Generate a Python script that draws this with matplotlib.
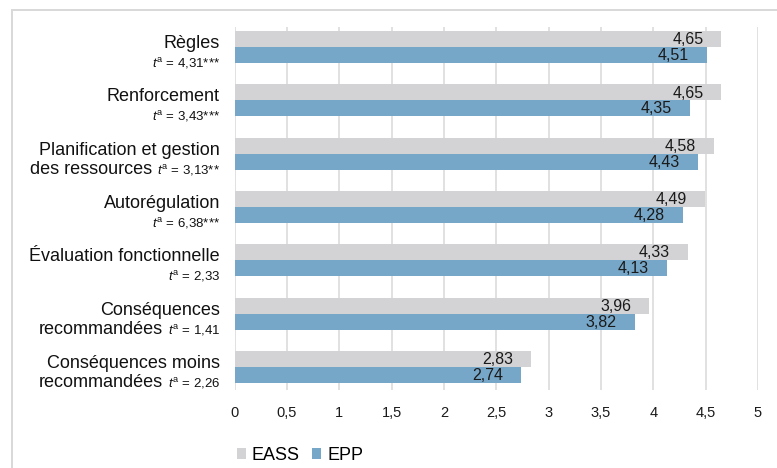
import matplotlib
matplotlib.use("Agg")
import matplotlib.pyplot as plt
from matplotlib.lines import Line2D
from matplotlib.font_manager import fontManager

# ---- data -------------------------------------------------------------
categories = [
    ["Règles"],
    ["Renforcement"],
    ["Planification et gestion", "des ressources"],
    ["Autorégulation"],
    ["Évaluation fonctionnelle"],
    ["Conséquences", "recommandées"],
    ["Conséquences moins", "recommandées"],
]
t_values = ["4,31***", "3,43***", "3,13**", "6,38***", "2,33", "1,41", "2,26"]
series_names = ["EASS", "EPP"]
eass = [4.65, 4.65, 4.58, 4.49, 4.33, 3.96, 2.83]
epp = [4.51, 4.35, 4.43, 4.28, 4.13, 3.82, 2.74]
xticks = [0, 0.5, 1, 1.5, 2, 2.5, 3, 3.5, 4, 4.5, 5]
xtick_labels = ["0", "0,5", "1", "1,5", "2", "2,5", "3", "3,5", "4", "4,5", "5"]

# ---- style ------------------------------------------------------------
installed = {f.name for f in fontManager.ttflist}
NARROW = "Liberation Sans Narrow" if "Liberation Sans Narrow" in installed else "Liberation Sans"
REG = "Liberation Sans"
plt.rcParams["font.family"] = [REG, "DejaVu Sans"]
plt.rcParams["mathtext.fontset"] = "custom"
plt.rcParams["mathtext.rm"] = NARROW
plt.rcParams["mathtext.it"] = NARROW + ":italic"

GRAY = "#D3D3D5"
BLUE = "#77A7C8"
GRID = "#D9D9D9"
DPI = 100
PT = 72.0 / DPI  # points per pixel

fig = plt.figure(figsize=(7.77, 4.68), dpi=DPI)
ax = fig.add_axes([234.7 / 777, 1 - 390 / 468, (758 - 234.7) / 777, (390 - 26.7) / 468])

pos = list(range(len(categories)))
bh = 0.3
b1 = ax.barh([p - bh / 2 for p in pos], eass, height=bh, color=GRAY, label=series_names[0], zorder=2)
b2 = ax.barh([p + bh / 2 for p in pos], epp, height=bh, color=BLUE, label=series_names[1], zorder=2)

ax.set_xlim(0, 5)
ax.set_ylim(6.435, -0.381)
ax.set_xticks(xticks)
ax.set_xticklabels(xtick_labels, fontsize=10.5, color="#1a1a1a")
ax.set_yticks([])
ax.tick_params(axis="x", length=0, pad=11.5)
ax.xaxis.grid(True, color=GRID, linewidth=1.1)
ax.set_axisbelow(True)
for s in ax.spines.values():
    s.set_visible(False)

# value labels inside the bar ends
for bars, vals in ((b1, eass), (b2, epp)):
    for rect, v in zip(bars, vals):
        ax.annotate(f"{v:.2f}".replace(".", ","),
                    xy=(v, rect.get_y() + rect.get_height() / 2),
                    xytext=(-18 * PT, -0.5), textcoords="offset points",
                    ha="right", va="center", fontsize=11.5, color="#1a1a1a")

# category labels with t statistic
ytr = ax.get_yaxis_transform()
renderer = fig.canvas.get_renderer()
CAT_SIZE = 13
T_SIZE = 9.5
xr = -14.7 * PT
for i, (lines, tv) in enumerate(zip(categories, t_values)):
    tlab = r"$t^{\mathrm{a}}$ = " + tv
    y1 = -1 * PT
    y2 = -20.5 * PT
    ax.annotate(lines[0], xy=(0, i), xycoords=ytr, xytext=(xr, y1), textcoords="offset points",
                ha="right", va="baseline", fontsize=CAT_SIZE, family=NARROW, color="#111111")
    tt = ax.annotate(tlab, xy=(0, i), xycoords=ytr, xytext=(xr, y2), textcoords="offset points",
                     ha="right", va="baseline", fontsize=T_SIZE, family=NARROW, color="#111111")
    if len(lines) > 1:
        w = tt.get_window_extent(renderer).width
        ax.annotate(lines[1], xy=(0, i), xycoords=ytr, xytext=(xr - (w + 5) * PT, y2),
                    textcoords="offset points", ha="right", va="baseline",
                    fontsize=CAT_SIZE, family=NARROW, color="#111111")

# legend
leg = fig.legend(handles=[b1, b2], labels=series_names, loc="center left",
                 bbox_to_anchor=(236.7 / 777, 1 - 455.5 / 468), ncol=2, frameon=False,
                 prop={"family": NARROW, "size": 13}, handlelength=0.5, handleheight=0.5,
                 handletextpad=0.33, columnspacing=0.7, borderpad=0, borderaxespad=0)

# outer frame (left and top edges)
fig.add_artist(Line2D([12 / 777, 12 / 777], [0, 1 - 10 / 468], color=GRID, linewidth=2 * PT,
                      transform=fig.transFigure))
fig.add_artist(Line2D([12 / 777, 1], [1 - 10 / 468, 1 - 10 / 468], color=GRID, linewidth=2 * PT,
                      transform=fig.transFigure))

fig.savefig("out.png", dpi=DPI)
